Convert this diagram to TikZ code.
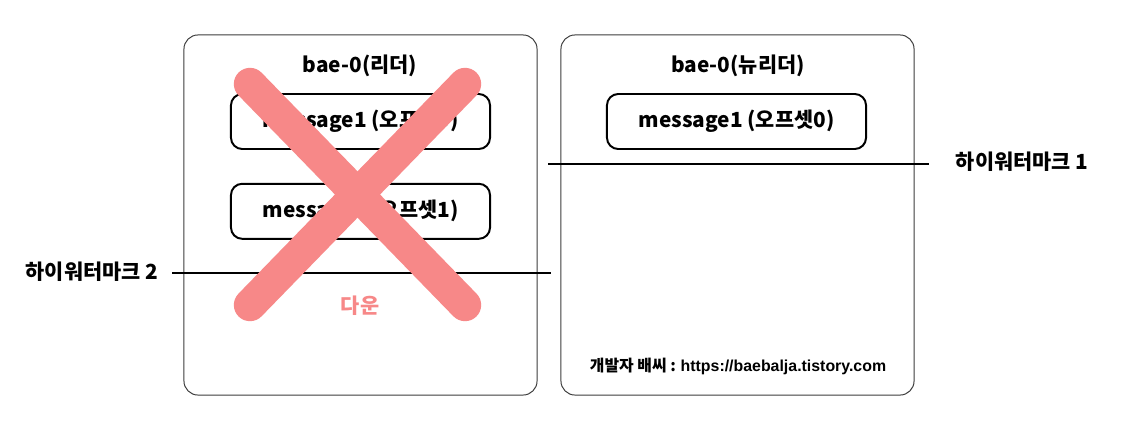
\documentclass[tikz,border=0pt]{standalone}
\usepackage{fontspec}
\setmainfont{Noto Sans CJK KR}
\newfontfamily\urlfont{Liberation Sans}
\usepackage{tikz}
\usetikzlibrary{positioning,calc}
\definecolor{downred}{RGB}{247,136,136}
\definecolor{frame}{RGB}{60,60,60}
\tikzset{
  broker/.style={rectangle,rounded corners=10pt,draw=frame,line width=0.7pt,minimum width=8.825cm,minimum height=9cm,inner sep=0pt},
  msgbox/.style={rectangle,rounded corners=8pt,draw=black,line width=1.4pt,minimum width=6.475cm,minimum height=1.375cm,font=\bfseries\fontsize{14.8}{17}\selectfont},
  title/.style={font=\bfseries\fontsize{14.8}{17}\selectfont},
  hwlabel/.style={font=\bfseries\fontsize{14.8}{17}\selectfont,inner sep=0pt},
  hwline/.style={line width=2pt},
  cross/.style={downred,line width=23pt,line cap=round}
}
\begin{document}
\begin{tikzpicture}[x=0.025cm,y=-0.025cm]
  \useasboundingbox[fill=white] (0,0) rectangle (1128,435);
  % brokers
  \node[broker] (old) at (360.5,215) {};
  \node[broker] (new) at (737.5,215) {};
  \node[title] (oldtitle) at (360,66) {bae-0(리더)};
  \node[title] (newtitle) at (738,66) {bae-0(뉴리더)};
  % messages
  \node[msgbox] (oldmsg1) at (360.5,121.5) {message1 (오프셋0)};
  \node[msgbox,below=0.82cm of oldmsg1] (oldmsg2) {message2 (오프셋1)};
  \node[msgbox] (newmsg1) at (736.5,121.5) {message1 (오프셋0)};
  % high watermarks
  \node[hwlabel] (hwtwo) at (92,272) {하이워터마크 2};
  \coordinate (hwtwoend) at (551,273);
  \draw[hwline] (hwtwo.east |- hwtwoend) ++(14,0) -- (hwtwoend);
  \node[hwlabel] (hwone) at (1022,162) {하이워터마크 1};
  \coordinate (hwonestart) at (548,164);
  \draw[hwline] (hwonestart) -- ($(hwone.west |- hwonestart)+(-27,0)$);
  % down
  \node[font=\bfseries\fontsize{14.8}{17}\selectfont,text=downred] (down) at (360,306) {다운};
  \coordinate (xa) at (250,84);
  \coordinate (xb) at (465,305);
  \coordinate (xc) at (465,84);
  \coordinate (xd) at (250,305);
  \draw[cross] (xa) -- (xb);
  \draw[cross] (xc) -- (xd);
  % footer
  \node[font=\bfseries\fontsize{11.3}{13}\selectfont] (credit) at (738,366) {개발자 배씨 : {\urlfont https://baebalja.tistory.com}};
\end{tikzpicture}
\end{document}
